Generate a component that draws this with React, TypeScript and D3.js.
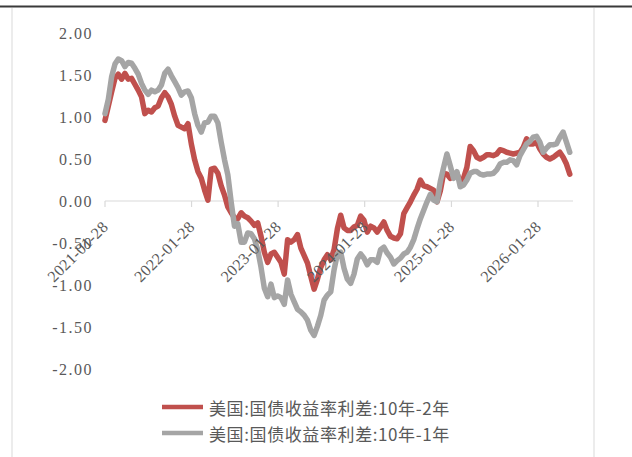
import React from "react";
import * as d3 from "d3";

// 美国国债收益率利差, biweekly readings from 2021-01-28
const startDate = "2021-01-28";
const stepDays = 14;

const spread10y2y = [
  0.96, 1.13, 1.3, 1.46, 1.51, 1.45, 1.52, 1.45, 1.46, 1.39,
  1.32, 1.24, 1.04, 1.08, 1.06, 1.11, 1.13, 1.23, 1.29, 1.24,
  1.15, 1.01, 0.9, 0.88, 0.86, 0.92, 0.68, 0.49, 0.35, 0.27,
  0.13, 0.01, 0.38, 0.39, 0.33, 0.18, 0.07, -0.07, -0.14, -0.2,
  -0.21, -0.14, -0.18, -0.2, -0.24, -0.29, -0.26, -0.42, -0.61, -0.73,
  -0.63, -0.61, -0.67, -0.73, -0.87, -0.46, -0.49, -0.46, -0.4, -0.56,
  -0.65, -0.74, -0.9, -1.05, -0.93, -0.79, -0.7, -0.64, -0.7, -0.58,
  -0.33, -0.17, -0.32, -0.35, -0.35, -0.31, -0.29, -0.18, -0.23, -0.37,
  -0.3, -0.32, -0.37, -0.31, -0.25, -0.35, -0.42, -0.44, -0.45, -0.39,
  -0.15, -0.08, -0.01, 0.07, 0.14, 0.25, 0.18, 0.17, 0.15, 0.13,
  -0.01, 0.12, 0.33, 0.32, 0.27, 0.31, 0.33, 0.23, 0.27, 0.4,
  0.65, 0.6, 0.52, 0.5, 0.52, 0.55, 0.55, 0.54, 0.56, 0.61,
  0.6, 0.58, 0.57, 0.56, 0.57, 0.58, 0.64, 0.74, 0.68, 0.68,
  0.7, 0.62, 0.56, 0.52, 0.5, 0.52, 0.55, 0.58, 0.52, 0.44,
  0.32,
];

const spread10y1y = [
  1.04, 1.21, 1.48, 1.63, 1.69, 1.67, 1.6, 1.65, 1.64, 1.58,
  1.51, 1.4, 1.32, 1.27, 1.32, 1.3, 1.32, 1.38, 1.52, 1.57,
  1.49, 1.42, 1.35, 1.26, 1.3, 1.31, 1.23, 1.04, 0.9, 0.82,
  0.93, 0.94, 1.01, 1.01, 0.93, 0.7, 0.49, 0.31, -0.01, -0.3,
  -0.27, -0.49, -0.49, -0.38, -0.39, -0.45, -0.58, -0.79, -1.04, -1.14,
  -0.99, -1.15, -1.13, -1.15, -1.23, -0.94, -1.11, -1.2, -1.29, -1.32,
  -1.36, -1.42, -1.54, -1.6, -1.49, -1.36, -1.18, -1.12, -1.08, -0.82,
  -0.63, -0.61, -0.8, -0.93, -0.98, -0.87, -0.69, -0.63, -0.68, -0.76,
  -0.7, -0.7, -0.73, -0.58, -0.55, -0.62, -0.67, -0.75, -0.71, -0.68,
  -0.63, -0.61, -0.55, -0.46, -0.33, -0.21, -0.11, -0.01, 0.08, 0.01,
  -0.01, 0.23, 0.4, 0.56, 0.42, 0.27, 0.35, 0.17, 0.19, 0.25,
  0.33, 0.35, 0.35, 0.32, 0.31, 0.32, 0.32, 0.33, 0.37, 0.44,
  0.46, 0.46, 0.49, 0.48, 0.43, 0.54, 0.61, 0.68, 0.71, 0.76,
  0.77, 0.7, 0.58, 0.63, 0.67, 0.67, 0.68, 0.76, 0.82, 0.7,
  0.58,
];

const xTickLabels = [
  "2021-01-28",
  "2022-01-28",
  "2023-01-28",
  "2024-01-28",
  "2025-01-28",
  "2026-01-28",
];
const yTicks = [2, 1.5, 1, 0.5, 0, -0.5, -1, -1.5, -2];

const seriesNames = ["美国:国债收益率利差:10年-2年", "美国:国债收益率利差:10年-1年"];
const seriesColors = ["#C0504D", "#A5A5A5"];

const W = 632;
const H = 457;

const parse = d3.timeParse("%Y-%m-%d");

export default function App() {
  const start = parse(startDate) as Date;
  const dates = spread10y2y.map((_, i) => d3.timeDay.offset(start, i * stepDays));
  const tickDates = xTickLabels.map((s) => parse(s) as Date);

  const x = d3
    .scaleTime()
    .domain([tickDates[0], tickDates[tickDates.length - 1]])
    .range([105, 538]);
  const y = d3.scaleLinear().domain([-2, 2]).range([369, 33]);

  const axisEnd = 573;
  const fmt = (v: number) => d3.format(".2f")(v).replace("\u2212", "-");

  const line = d3
    .line<number>()
    .x((_, i) => x(dates[i]))
    .y((d) => y(d));

  const series = [spread10y2y, spread10y1y];
  const numFont = "Liberation Serif, DejaVu Serif, serif";

  return (
    <svg
      width={W}
      height={H}
      style={{ position: "absolute", left: 0, top: 0, background: "#fff" }}
    >
      <rect x={0} y={0} width={W} height={H} fill="#fff" />
      {/* page rule and frame */}
      <line x1={0} x2={W} y1={6.5} y2={6.5} stroke="#3a3a3a" strokeWidth={2} />
      <line x1={12} x2={12} y1={8} y2={H} stroke="#d9d9d9" strokeWidth={1} />
      <line x1={594} x2={594} y1={8} y2={H} stroke="#d9d9d9" strokeWidth={1} />

      {/* y labels */}
      {yTicks.map((t) => (
        <text
          key={t}
          x={93}
          y={y(t)}
          textAnchor="end"
          dominantBaseline="central"
          fontFamily={numFont}
          fontSize={16}
          letterSpacing={1.5}
          fill="#595959"
        >
          {fmt(t)}
        </text>
      ))}

      {/* x axis */}
      <line x1={105} x2={axisEnd} y1={y(0)} y2={y(0)} stroke="#d9d9d9" strokeWidth={1.2} />
      {tickDates.map((d, i) => (
        <line
          key={i}
          x1={x(d)}
          x2={x(d)}
          y1={y(0)}
          y2={y(0) + 6}
          stroke="#d9d9d9"
          strokeWidth={1.2}
        />
      ))}

      {/* series */}
      {series.map((s, i) => (
        <path
          key={i}
          d={line(s) ?? ""}
          fill="none"
          stroke={seriesColors[i]}
          strokeWidth={5.5}
          strokeLinejoin="round"
          strokeLinecap="round"
        />
      ))}

      {/* x labels on top */}
      {tickDates.map((d, i) => (
        <text
          key={i}
          transform={`translate(${x(d) + 4},${228}) rotate(-45)`}
          textAnchor="end"
          fontFamily={numFont}
          fontSize={16}
          letterSpacing={0.3}
          fill="#595959"
        >
          {xTickLabels[i]}
        </text>
      ))}

      {/* legend */}
      {seriesNames.map((name, i) => (
        <g key={name} transform={`translate(0,${407 + i * 26})`}>
          <line x1={162} x2={203} y1={0} y2={0} stroke={seriesColors[i]} strokeWidth={4.5} />
          <text
            x={209}
            y={0}
            dominantBaseline="central"
            fontFamily="Noto Sans CJK SC, sans-serif"
            fontSize={17}
            letterSpacing={0.6}
            fill="#595959"
          >
            {name}
          </text>
        </g>
      ))}
    </svg>
  );
}
